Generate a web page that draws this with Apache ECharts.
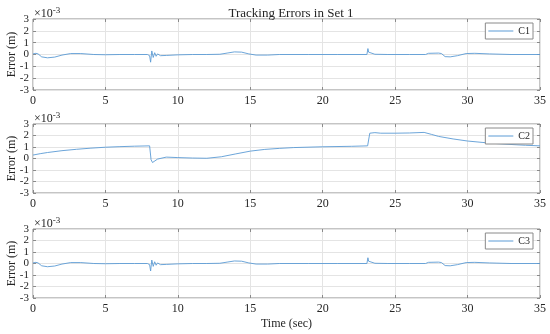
<!DOCTYPE html>
<html>
<head>
<meta charset="utf-8">
<script src="https://cdn.jsdelivr.net/npm/echarts@6/dist/echarts.min.js"></script>
<style>
html,body{margin:0;padding:0;background:#fff;}
#chart{width:550px;height:334px;}
</style>
</head>
<body>
<div id="chart"></div>
<script>
// values in units of 1e-3 m
var seriesNames = ['C1', 'C2', 'C3'];
var xTicks = [0, 5, 10, 15, 20, 25, 30, 35];
var yTicks = [-3, -2, -1, 0, 1, 2, 3];

var c1Time = [0, 0.2, 0.35, 0.6, 1.0, 1.5, 2.0, 2.6, 3.3, 4.2, 5, 6, 7, 7.9, 8.05, 8.12, 8.2, 8.3, 8.4, 8.5, 8.6, 8.8, 9.2, 10, 11, 12, 12.9, 13.4, 13.9, 14.4, 14.9, 15.4, 16.2, 17, 19, 21, 23.05, 23.12, 23.17, 23.3, 23.6, 24.5, 26, 27.1, 27.3, 28.0, 28.2, 28.45, 28.8, 29.3, 29.9, 30.5, 31.5, 33, 35];
var c1Err  = [0.05, 0.1, 0.05, -0.2, -0.28, -0.22, -0.05, 0.08, 0.08, 0.0, -0.02, 0, 0, 0, -0.1, -0.65, 0.3, -0.25, 0.15, -0.15, 0.05, -0.1, -0.08, -0.03, 0, 0, 0.02, 0.12, 0.22, 0.2, 0.05, -0.05, -0.05, 0, 0, 0, 0, 0.5, 0.2, 0.05, 0.02, 0, 0, 0, 0.1, 0.12, 0.08, -0.18, -0.2, -0.1, 0.08, 0.1, 0.05, 0, 0];

var c2Time = [0, 0.5, 1, 2, 3, 4, 5, 6, 7, 8.05, 8.15, 8.25, 8.6, 9.2, 10, 11, 12, 13, 14, 15, 16, 17, 18, 20, 22, 23.1, 23.25, 23.6, 24, 25, 26, 27, 27.5, 28, 29, 30, 31, 32, 33, 34, 35];
var c2Err  = [0.3, 0.42, 0.52, 0.68, 0.8, 0.9, 0.98, 1.03, 1.07, 1.1, -0.1, -0.35, -0.05, 0.12, 0.08, 0.04, 0.02, 0.15, 0.4, 0.64, 0.79, 0.88, 0.95, 1.02, 1.06, 1.1, 2.2, 2.25, 2.2, 2.2, 2.22, 2.27, 2.1, 1.92, 1.7, 1.52, 1.4, 1.3, 1.22, 1.15, 1.1];

var c3Time = [0, 0.2, 0.35, 0.6, 1.0, 1.5, 2.0, 2.6, 3.3, 4.2, 5, 6, 7, 7.9, 8.05, 8.12, 8.2, 8.3, 8.4, 8.5, 8.6, 8.8, 9.2, 10, 11, 12, 12.9, 13.4, 13.9, 14.4, 14.9, 15.4, 16.2, 17, 19, 21, 23.05, 23.12, 23.17, 23.3, 23.6, 24.5, 26, 27.1, 27.3, 28.0, 28.2, 28.45, 28.8, 29.3, 29.9, 30.5, 31.5, 33, 35];
var c3Err  = [0.05, 0.1, 0.05, -0.2, -0.28, -0.22, -0.05, 0.08, 0.08, 0.0, -0.02, 0, 0, 0, -0.1, -0.65, 0.3, -0.25, 0.15, -0.15, 0.05, -0.1, -0.08, -0.03, 0, 0, 0.02, 0.12, 0.22, 0.2, 0.05, -0.05, -0.05, 0, 0, 0, 0, 0.5, 0.2, 0.05, 0.02, 0, 0, 0, 0.1, 0.12, 0.08, -0.18, -0.2, -0.1, 0.08, 0.1, 0.05, 0, 0];

var times = [c1Time, c2Time, c3Time];
var errs = [c1Err, c2Err, c3Err];

var FONT = '"Liberation Serif", "DejaVu Serif", serif';
var TXT = '#262626';
var BOX = '#8a8a8a';
var GRIDC = '#e4e4e4';
var LINE = '#5b9bd5';

var gridTops = [19, 124, 229];
var gridHeights = [71, 69, 69];

var grids = [], xAxes = [], yAxes = [], series = [], legends = [], graphics = [];
for (var i = 0; i < 3; i++) {
  grids.push({left: 33, top: gridTops[i], width: 507, height: gridHeights[i], show: true,
    borderColor: BOX, borderWidth: 1, backgroundColor: '#fff', containLabel: false, outerBoundsMode: 'none'});
  xAxes.push({
    type: 'value', gridIndex: i, min: xTicks[0], max: xTicks[xTicks.length - 1], interval: 5,
    axisLine: {show: false, onZero: false},
    axisTick: {show: true, inside: true, length: 3, lineStyle: {color: BOX}},
    axisLabel: {color: TXT, fontFamily: FONT, fontSize: 12, margin: 5, hideOverlap: false, showMinLabel: true, showMaxLabel: true},
    splitLine: {show: true, lineStyle: {color: GRIDC, width: 1}},
    name: i === 2 ? 'Time (sec)' : '', nameLocation: 'middle', nameGap: 20, nameMoveOverlap: false,
    nameTextStyle: {color: TXT, fontFamily: FONT, fontSize: 12}
  });
  xAxes.push({
    type: 'value', gridIndex: i, position: 'top', min: 0, max: 35, interval: 5,
    axisLine: {show: false, onZero: false},
    axisTick: {show: true, inside: true, length: 3, lineStyle: {color: BOX}},
    axisLabel: {show: false}, splitLine: {show: false}
  });
  yAxes.push({
    type: 'value', gridIndex: i, min: yTicks[0], max: yTicks[yTicks.length - 1], interval: 1,
    axisLine: {show: false, onZero: false},
    axisTick: {show: true, inside: true, length: 3, lineStyle: {color: BOX}},
    axisLabel: {color: TXT, fontFamily: FONT, fontSize: 11, margin: 4, hideOverlap: false, showMinLabel: true, showMaxLabel: true},
    splitLine: {show: true, lineStyle: {color: GRIDC, width: 1}},
    name: 'Error (m)', nameLocation: 'middle', nameGap: 15, nameMoveOverlap: false,
    nameTextStyle: {color: TXT, fontFamily: FONT, fontSize: 12}
  });
  yAxes.push({
    type: 'value', gridIndex: i, position: 'right', min: -3, max: 3, interval: 1,
    axisLine: {show: false, onZero: false},
    axisTick: {show: true, inside: true, length: 3, lineStyle: {color: BOX}},
    axisLabel: {show: false}, splitLine: {show: false}
  });
  var d = [];
  for (var k = 0; k < times[i].length; k++) d.push([times[i][k], errs[i][k]]);
  series.push({
    name: seriesNames[i], type: 'line', xAxisIndex: 2 * i, yAxisIndex: 2 * i,
    data: d, showSymbol: false, symbol: 'none', smooth: false,
    lineStyle: {color: LINE, width: 0.9}, itemStyle: {color: LINE}, animation: false
  });
  legends.push({
    data: [seriesNames[i]], right: 17, top: gridTops[i] + 4,
    backgroundColor: '#fff', borderColor: BOX, borderWidth: 1, borderRadius: 0,
    padding: [3, 3, 3, 3], itemWidth: 25, itemHeight: 1, icon: 'rect', itemGap: 4,
    textStyle: {color: TXT, fontFamily: FONT, fontSize: 10}
  });
  graphics.push({
    type: 'text', left: 34, top: gridTops[i] - 13,
    style: {
      text: '{a|×10}{b|-3}', fill: TXT,
      rich: {a: {fontFamily: FONT, fontSize: 12, fill: TXT}, b: {fontFamily: FONT, fontSize: 9, fill: TXT, verticalAlign: 'top', padding: [0, 0, 6, 0]}}
    }
  });
}

var chart = echarts.init(document.getElementById('chart'), null, {renderer: 'canvas'});
chart.setOption({
  animation: false,
  backgroundColor: '#fff',
  title: {text: 'Tracking Errors in Set 1', left: 286, textAlign: 'center', top: 2,
    textStyle: {color: TXT, fontFamily: FONT, fontSize: 13, fontWeight: 'normal'}},
  grid: grids, xAxis: xAxes, yAxis: yAxes, series: series, legend: legends, graphic: graphics
});
</script>
</body>
</html>
